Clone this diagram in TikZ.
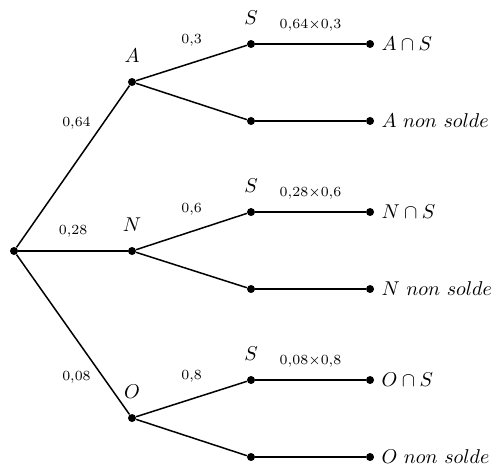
\documentclass[tikz,border=0pt]{standalone}
\usepackage{amsmath}
\usetikzlibrary{positioning}

\begin{document}
\begin{tikzpicture}[
    pt/.style={circle, fill=black, inner sep=0pt, minimum size=4pt},
    branch/.style={line width=0.75pt},
    prob/.style={font=\scriptsize}
  ]
    \useasboundingbox (-0.246,-3.937) rectangle (8.611,4.411);

    % first level
    \node[pt] (r) at (0,0) {};
    \node[pt] (a) at (2.074,2.970) {};
    \node[pt] (n) at (2.074,0) {};
    \node[pt] (o) at (2.074,-2.935) {};

    % second level
    \node[pt] (as) at (4.165,3.638) {};
    \node[pt] (ab) at (4.165,2.285) {};
    \node[pt] (ns) at (4.165,0.685) {};
    \node[pt] (nb) at (4.165,-0.668) {};
    \node[pt] (os) at (4.165,-2.267) {};
    \node[pt] (ob) at (4.165,-3.620) {};

    % ends
    \node[pt] (ase) at (6.257,3.638) {};
    \node[pt] (abe) at (6.257,2.285) {};
    \node[pt] (nse) at (6.257,0.685) {};
    \node[pt] (nbe) at (6.257,-0.668) {};
    \node[pt] (ose) at (6.257,-2.267) {};
    \node[pt] (obe) at (6.257,-3.620) {};

    \draw[branch] (r) -- node[prob, pos=.77, left=2.7pt] {0,64} (a);
    \draw[branch] (r) -- node[prob, midway, above=3pt] {0,28} (n);
    \draw[branch] (r) -- node[prob, pos=.77, left=2.7pt] {0,08} (o);

    \draw[branch] (a) -- node[prob, midway, above=4.5pt] {0,3} (as);
    \draw[branch] (a) -- (ab);
    \draw[branch] (n) -- node[prob, midway, above=4.5pt] {0,6} (ns);
    \draw[branch] (n) -- (nb);
    \draw[branch] (o) -- node[prob, midway, above=4.5pt] {0,8} (os);
    \draw[branch] (o) -- (ob);

    \draw[branch] (as) -- node[prob, midway, above=2.5pt] {$0{,}64{\times}0{,}3$} (ase);
    \draw[branch] (ab) -- (abe);
    \draw[branch] (ns) -- node[prob, midway, above=2.5pt] {$0{,}28{\times}0{,}6$} (nse);
    \draw[branch] (nb) -- (nbe);
    \draw[branch] (os) -- node[prob, midway, above=2.5pt] {$0{,}08{\times}0{,}8$} (ose);
    \draw[branch] (ob) -- (obe);

    \node[above=4pt of a] {$A$};
    \node[above=4pt of n] {$N$};
    \node[above=4pt of o] {$O$};
    \node[above=4pt of as] {$S$};
    \node[above=4pt of ns] {$S$};
    \node[above=4pt of os] {$S$};

    \node[right=0pt of ase] {$A\cap S$};
    \node[right=0pt of abe] {$A\ non\ solde$};
    \node[right=0pt of nse] {$N\cap S$};
    \node[right=0pt of nbe] {$N\ non\ solde$};
    \node[right=0pt of ose] {$O\cap S$};
    \node[right=0pt of obe] {$O\ non\ solde$};
\end{tikzpicture}
\end{document}
